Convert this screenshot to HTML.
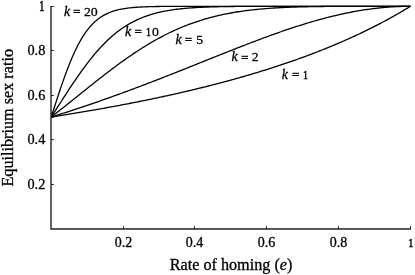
<!DOCTYPE html>
<html><head><meta charset="utf-8"><style>
html,body{margin:0;padding:0;background:#fff;}
body{width:415px;height:275px;overflow:hidden;}
svg{display:block;}
text{font-family:"Liberation Serif","Times New Roman",serif;fill:#000;stroke:#000;stroke-width:0.3px;}
</style></head><body>
<svg width="415" height="275" viewBox="0 0 415 275">
<rect width="415" height="275" fill="#fff"/>
<g fill="none" stroke="#000" stroke-width="1.3" stroke-linejoin="round">
<path d="M51.20,117.00 L52.70,116.77 L54.19,116.54 L55.69,116.30 L57.19,116.07 L58.68,115.83 L60.18,115.60 L61.68,115.36 L63.17,115.12 L64.67,114.88 L66.17,114.64 L67.66,114.40 L69.16,114.16 L70.66,113.92 L72.15,113.67 L73.65,113.43 L75.15,113.18 L76.64,112.94 L78.14,112.69 L79.64,112.44 L81.13,112.19 L82.63,111.94 L84.13,111.68 L85.62,111.43 L87.12,111.17 L88.62,110.92 L90.11,110.66 L91.61,110.40 L93.11,110.14 L94.60,109.88 L96.10,109.62 L97.60,109.36 L99.09,109.09 L100.59,108.83 L102.09,108.56 L103.58,108.29 L105.08,108.02 L106.58,107.75 L108.07,107.48 L109.57,107.21 L111.07,106.94 L112.56,106.66 L114.06,106.38 L115.56,106.11 L117.05,105.83 L118.55,105.55 L120.05,105.27 L121.54,104.98 L123.04,104.70 L124.54,104.41 L126.03,104.13 L127.53,103.84 L129.03,103.55 L130.52,103.26 L132.02,102.97 L133.52,102.67 L135.01,102.38 L136.51,102.08 L138.01,101.79 L139.50,101.49 L141.00,101.19 L142.50,100.88 L143.99,100.58 L145.49,100.28 L146.99,99.97 L148.48,99.66 L149.98,99.35 L151.48,99.04 L152.97,98.73 L154.47,98.42 L155.97,98.10 L157.46,97.78 L158.96,97.46 L160.46,97.14 L161.95,96.82 L163.45,96.50 L164.95,96.18 L166.44,95.85 L167.94,95.52 L169.44,95.19 L170.93,94.86 L172.43,94.53 L173.93,94.19 L175.42,93.86 L176.92,93.52 L178.42,93.18 L179.91,92.84 L181.41,92.49 L182.91,92.15 L184.40,91.80 L185.90,91.45 L187.40,91.10 L188.89,90.75 L190.39,90.40 L191.89,90.04 L193.38,89.68 L194.88,89.32 L196.38,88.96 L197.87,88.60 L199.37,88.24 L200.87,87.87 L202.36,87.50 L203.86,87.13 L205.36,86.76 L206.85,86.38 L208.35,86.00 L209.85,85.63 L211.34,85.24 L212.84,84.86 L214.34,84.48 L215.83,84.09 L217.33,83.70 L218.83,83.31 L220.32,82.92 L221.82,82.52 L223.32,82.12 L224.81,81.72 L226.31,81.32 L227.81,80.92 L229.30,80.51 L230.80,80.10 L232.30,79.69 L233.79,79.28 L235.29,78.86 L236.79,78.44 L238.28,78.02 L239.78,77.60 L241.28,77.17 L242.77,76.75 L244.27,76.32 L245.77,75.88 L247.26,75.45 L248.76,75.01 L250.26,74.57 L251.75,74.13 L253.25,73.68 L254.75,73.23 L256.24,72.78 L257.74,72.33 L259.24,71.88 L260.73,71.42 L262.23,70.96 L263.73,70.49 L265.22,70.03 L266.72,69.56 L268.22,69.09 L269.71,68.61 L271.21,68.13 L272.71,67.65 L274.20,67.17 L275.70,66.68 L277.20,66.19 L278.69,65.70 L280.19,65.20 L281.69,64.71 L283.18,64.20 L284.68,63.70 L286.18,63.19 L287.67,62.68 L289.17,62.17 L290.67,61.65 L292.16,61.13 L293.66,60.61 L295.16,60.08 L296.65,59.55 L298.15,59.01 L299.65,58.48 L301.14,57.94 L302.64,57.39 L304.14,56.84 L305.63,56.29 L307.13,55.74 L308.63,55.18 L310.12,54.62 L311.62,54.05 L313.12,53.48 L314.61,52.91 L316.11,52.33 L317.61,51.75 L319.10,51.17 L320.60,50.58 L322.10,49.99 L323.59,49.39 L325.09,48.79 L326.59,48.19 L328.08,47.58 L329.58,46.97 L331.08,46.35 L332.57,45.73 L334.07,45.10 L335.57,44.47 L337.06,43.84 L338.56,43.20 L340.06,42.56 L341.55,41.91 L343.05,41.26 L344.55,40.60 L346.04,39.94 L347.54,39.27 L349.04,38.60 L350.53,37.93 L352.03,37.25 L353.53,36.56 L355.02,35.87 L356.52,35.18 L358.02,34.48 L359.51,33.77 L361.01,33.06 L362.51,32.35 L364.00,31.63 L365.50,30.90 L367.00,30.17 L368.49,29.43 L369.99,28.69 L371.49,27.94 L372.98,27.19 L374.48,26.43 L375.98,25.66 L377.47,24.89 L378.97,24.11 L380.47,23.33 L381.96,22.54 L383.46,21.75 L384.96,20.95 L386.45,20.14 L387.95,19.32 L389.45,18.50 L390.94,17.68 L392.44,16.84 L393.94,16.00 L395.43,15.16 L396.93,14.30 L398.43,13.44 L399.92,12.57 L401.42,11.70 L402.92,10.82 L404.41,9.93 L405.91,9.03 L407.41,8.13 L408.90,7.22 L410.40,6.30"/>
<path d="M51.20,117.00 L52.70,116.54 L54.19,116.07 L55.69,115.61 L57.19,115.14 L58.68,114.67 L60.18,114.20 L61.68,113.72 L63.17,113.25 L64.67,112.77 L66.17,112.29 L67.66,111.81 L69.16,111.33 L70.66,110.84 L72.15,110.35 L73.65,109.87 L75.15,109.37 L76.64,108.88 L78.14,108.39 L79.64,107.89 L81.13,107.39 L82.63,106.89 L84.13,106.39 L85.62,105.89 L87.12,105.38 L88.62,104.87 L90.11,104.36 L91.61,103.85 L93.11,103.34 L94.60,102.82 L96.10,102.31 L97.60,101.79 L99.09,101.27 L100.59,100.74 L102.09,100.22 L103.58,99.69 L105.08,99.17 L106.58,98.64 L108.07,98.11 L109.57,97.57 L111.07,97.04 L112.56,96.50 L114.06,95.96 L115.56,95.42 L117.05,94.88 L118.55,94.34 L120.05,93.79 L121.54,93.25 L123.04,92.70 L124.54,92.15 L126.03,91.60 L127.53,91.05 L129.03,90.49 L130.52,89.94 L132.02,89.38 L133.52,88.82 L135.01,88.26 L136.51,87.70 L138.01,87.13 L139.50,86.57 L141.00,86.00 L142.50,85.44 L143.99,84.87 L145.49,84.30 L146.99,83.73 L148.48,83.15 L149.98,82.58 L151.48,82.00 L152.97,81.43 L154.47,80.85 L155.97,80.27 L157.46,79.69 L158.96,79.11 L160.46,78.53 L161.95,77.94 L163.45,77.36 L164.95,76.77 L166.44,76.19 L167.94,75.60 L169.44,75.01 L170.93,74.42 L172.43,73.83 L173.93,73.24 L175.42,72.65 L176.92,72.06 L178.42,71.47 L179.91,70.87 L181.41,70.28 L182.91,69.68 L184.40,69.09 L185.90,68.49 L187.40,67.89 L188.89,67.30 L190.39,66.70 L191.89,66.10 L193.38,65.50 L194.88,64.91 L196.38,64.31 L197.87,63.71 L199.37,63.11 L200.87,62.51 L202.36,61.91 L203.86,61.31 L205.36,60.71 L206.85,60.11 L208.35,59.51 L209.85,58.92 L211.34,58.32 L212.84,57.72 L214.34,57.12 L215.83,56.52 L217.33,55.93 L218.83,55.33 L220.32,54.73 L221.82,54.14 L223.32,53.54 L224.81,52.95 L226.31,52.36 L227.81,51.76 L229.30,51.17 L230.80,50.58 L232.30,49.99 L233.79,49.40 L235.29,48.81 L236.79,48.23 L238.28,47.64 L239.78,47.06 L241.28,46.47 L242.77,45.89 L244.27,45.31 L245.77,44.74 L247.26,44.16 L248.76,43.58 L250.26,43.01 L251.75,42.44 L253.25,41.87 L254.75,41.30 L256.24,40.74 L257.74,40.17 L259.24,39.61 L260.73,39.05 L262.23,38.49 L263.73,37.94 L265.22,37.39 L266.72,36.84 L268.22,36.29 L269.71,35.75 L271.21,35.20 L272.71,34.67 L274.20,34.13 L275.70,33.60 L277.20,33.07 L278.69,32.54 L280.19,32.01 L281.69,31.49 L283.18,30.98 L284.68,30.46 L286.18,29.95 L287.67,29.44 L289.17,28.94 L290.67,28.44 L292.16,27.94 L293.66,27.45 L295.16,26.96 L296.65,26.48 L298.15,26.00 L299.65,25.52 L301.14,25.05 L302.64,24.58 L304.14,24.12 L305.63,23.66 L307.13,23.20 L308.63,22.75 L310.12,22.31 L311.62,21.87 L313.12,21.43 L314.61,21.00 L316.11,20.57 L317.61,20.15 L319.10,19.73 L320.60,19.32 L322.10,18.92 L323.59,18.52 L325.09,18.12 L326.59,17.73 L328.08,17.35 L329.58,16.97 L331.08,16.60 L332.57,16.23 L334.07,15.87 L335.57,15.51 L337.06,15.16 L338.56,14.82 L340.06,14.48 L341.55,14.15 L343.05,13.82 L344.55,13.50 L346.04,13.19 L347.54,12.88 L349.04,12.58 L350.53,12.28 L352.03,12.00 L353.53,11.71 L355.02,11.44 L356.52,11.17 L358.02,10.91 L359.51,10.66 L361.01,10.41 L362.51,10.17 L364.00,9.93 L365.50,9.71 L367.00,9.49 L368.49,9.27 L369.99,9.07 L371.49,8.87 L372.98,8.68 L374.48,8.49 L375.98,8.31 L377.47,8.14 L378.97,7.98 L380.47,7.83 L381.96,7.68 L383.46,7.54 L384.96,7.41 L386.45,7.28 L387.95,7.16 L389.45,7.05 L390.94,6.95 L392.44,6.85 L393.94,6.76 L395.43,6.68 L396.93,6.61 L398.43,6.55 L399.92,6.49 L401.42,6.44 L402.92,6.40 L404.41,6.36 L405.91,6.33 L407.41,6.32 L408.90,6.30 L410.40,6.30"/>
<path d="M51.20,117.00 L52.70,115.84 L54.19,114.68 L55.69,113.52 L57.19,112.35 L58.68,111.18 L60.18,110.00 L61.68,108.82 L63.17,107.64 L64.67,106.45 L66.17,105.27 L67.66,104.07 L69.16,102.88 L70.66,101.69 L72.15,100.49 L73.65,99.29 L75.15,98.09 L76.64,96.89 L78.14,95.69 L79.64,94.49 L81.13,93.29 L82.63,92.09 L84.13,90.89 L85.62,89.69 L87.12,88.50 L88.62,87.30 L90.11,86.11 L91.61,84.92 L93.11,83.73 L94.60,82.54 L96.10,81.36 L97.60,80.18 L99.09,79.00 L100.59,77.83 L102.09,76.67 L103.58,75.50 L105.08,74.34 L106.58,73.19 L108.07,72.05 L109.57,70.90 L111.07,69.77 L112.56,68.64 L114.06,67.52 L115.56,66.40 L117.05,65.30 L118.55,64.20 L120.05,63.10 L121.54,62.02 L123.04,60.94 L124.54,59.88 L126.03,58.82 L127.53,57.77 L129.03,56.73 L130.52,55.70 L132.02,54.67 L133.52,53.66 L135.01,52.66 L136.51,51.67 L138.01,50.69 L139.50,49.72 L141.00,48.76 L142.50,47.81 L143.99,46.88 L145.49,45.95 L146.99,45.04 L148.48,44.14 L149.98,43.25 L151.48,42.37 L152.97,41.50 L154.47,40.65 L155.97,39.80 L157.46,38.97 L158.96,38.16 L160.46,37.35 L161.95,36.56 L163.45,35.78 L164.95,35.01 L166.44,34.25 L167.94,33.51 L169.44,32.78 L170.93,32.06 L172.43,31.36 L173.93,30.67 L175.42,29.99 L176.92,29.32 L178.42,28.66 L179.91,28.02 L181.41,27.39 L182.91,26.77 L184.40,26.17 L185.90,25.58 L187.40,25.00 L188.89,24.43 L190.39,23.87 L191.89,23.33 L193.38,22.79 L194.88,22.27 L196.38,21.77 L197.87,21.27 L199.37,20.78 L200.87,20.31 L202.36,19.84 L203.86,19.39 L205.36,18.95 L206.85,18.52 L208.35,18.10 L209.85,17.69 L211.34,17.30 L212.84,16.91 L214.34,16.53 L215.83,16.16 L217.33,15.81 L218.83,15.46 L220.32,15.12 L221.82,14.79 L223.32,14.47 L224.81,14.16 L226.31,13.86 L227.81,13.57 L229.30,13.28 L230.80,13.01 L232.30,12.74 L233.79,12.48 L235.29,12.23 L236.79,11.99 L238.28,11.75 L239.78,11.53 L241.28,11.31 L242.77,11.09 L244.27,10.89 L245.77,10.69 L247.26,10.50 L248.76,10.31 L250.26,10.13 L251.75,9.96 L253.25,9.79 L254.75,9.63 L256.24,9.48 L257.74,9.33 L259.24,9.18 L260.73,9.05 L262.23,8.91 L263.73,8.79 L265.22,8.66 L266.72,8.54 L268.22,8.43 L269.71,8.32 L271.21,8.22 L272.71,8.12 L274.20,8.02 L275.70,7.93 L277.20,7.84 L278.69,7.76 L280.19,7.68 L281.69,7.60 L283.18,7.53 L284.68,7.46 L286.18,7.39 L287.67,7.33 L289.17,7.27 L290.67,7.21 L292.16,7.15 L293.66,7.10 L295.16,7.05 L296.65,7.00 L298.15,6.96 L299.65,6.92 L301.14,6.87 L302.64,6.84 L304.14,6.80 L305.63,6.77 L307.13,6.73 L308.63,6.70 L310.12,6.67 L311.62,6.65 L313.12,6.62 L314.61,6.60 L316.11,6.58 L317.61,6.55 L319.10,6.53 L320.60,6.52 L322.10,6.50 L323.59,6.48 L325.09,6.47 L326.59,6.45 L328.08,6.44 L329.58,6.43 L331.08,6.42 L332.57,6.41 L334.07,6.40 L335.57,6.39 L337.06,6.38 L338.56,6.37 L340.06,6.36 L341.55,6.36 L343.05,6.35 L344.55,6.35 L346.04,6.34 L347.54,6.34 L349.04,6.33 L350.53,6.33 L352.03,6.33 L353.53,6.32 L355.02,6.32 L356.52,6.32 L358.02,6.31 L359.51,6.31 L361.01,6.31 L362.51,6.31 L364.00,6.31 L365.50,6.31 L367.00,6.31 L368.49,6.30 L369.99,6.30 L371.49,6.30 L372.98,6.30 L374.48,6.30 L375.98,6.30 L377.47,6.30 L378.97,6.30 L380.47,6.30 L381.96,6.30 L383.46,6.30 L384.96,6.30 L386.45,6.30 L387.95,6.30 L389.45,6.30 L390.94,6.30 L392.44,6.30 L393.94,6.30 L395.43,6.30 L396.93,6.30 L398.43,6.30 L399.92,6.30 L401.42,6.30 L402.92,6.30 L404.41,6.30 L405.91,6.30 L407.41,6.30 L408.90,6.30 L410.40,6.30"/>
<path d="M51.20,117.00 L52.70,114.69 L54.19,112.37 L55.69,110.05 L57.19,107.72 L58.68,105.39 L60.18,103.06 L61.68,100.73 L63.17,98.41 L64.67,96.10 L66.17,93.79 L67.66,91.50 L69.16,89.22 L70.66,86.95 L72.15,84.70 L73.65,82.47 L75.15,80.26 L76.64,78.07 L78.14,75.91 L79.64,73.77 L81.13,71.66 L82.63,69.59 L84.13,67.54 L85.62,65.52 L87.12,63.54 L88.62,61.59 L90.11,59.68 L91.61,57.81 L93.11,55.97 L94.60,54.17 L96.10,52.41 L97.60,50.70 L99.09,49.02 L100.59,47.38 L102.09,45.78 L103.58,44.23 L105.08,42.72 L106.58,41.25 L108.07,39.82 L109.57,38.43 L111.07,37.09 L112.56,35.78 L114.06,34.52 L115.56,33.29 L117.05,32.11 L118.55,30.97 L120.05,29.86 L121.54,28.80 L123.04,27.77 L124.54,26.78 L126.03,25.82 L127.53,24.90 L129.03,24.02 L130.52,23.17 L132.02,22.35 L133.52,21.57 L135.01,20.81 L136.51,20.09 L138.01,19.40 L139.50,18.74 L141.00,18.10 L142.50,17.50 L143.99,16.92 L145.49,16.36 L146.99,15.83 L148.48,15.32 L149.98,14.84 L151.48,14.38 L152.97,13.94 L154.47,13.52 L155.97,13.12 L157.46,12.74 L158.96,12.38 L160.46,12.04 L161.95,11.71 L163.45,11.40 L164.95,11.11 L166.44,10.83 L167.94,10.56 L169.44,10.31 L170.93,10.07 L172.43,9.85 L173.93,9.63 L175.42,9.43 L176.92,9.24 L178.42,9.06 L179.91,8.89 L181.41,8.73 L182.91,8.58 L184.40,8.43 L185.90,8.30 L187.40,8.17 L188.89,8.05 L190.39,7.93 L191.89,7.83 L193.38,7.73 L194.88,7.63 L196.38,7.54 L197.87,7.46 L199.37,7.38 L200.87,7.31 L202.36,7.24 L203.86,7.17 L205.36,7.11 L206.85,7.05 L208.35,7.00 L209.85,6.95 L211.34,6.90 L212.84,6.86 L214.34,6.82 L215.83,6.78 L217.33,6.74 L218.83,6.71 L220.32,6.68 L221.82,6.65 L223.32,6.62 L224.81,6.60 L226.31,6.58 L227.81,6.55 L229.30,6.53 L230.80,6.52 L232.30,6.50 L233.79,6.48 L235.29,6.47 L236.79,6.45 L238.28,6.44 L239.78,6.43 L241.28,6.42 L242.77,6.41 L244.27,6.40 L245.77,6.39 L247.26,6.38 L248.76,6.38 L250.26,6.37 L251.75,6.36 L253.25,6.36 L254.75,6.35 L256.24,6.35 L257.74,6.34 L259.24,6.34 L260.73,6.33 L262.23,6.33 L263.73,6.33 L265.22,6.33 L266.72,6.32 L268.22,6.32 L269.71,6.32 L271.21,6.32 L272.71,6.32 L274.20,6.31 L275.70,6.31 L277.20,6.31 L278.69,6.31 L280.19,6.31 L281.69,6.31 L283.18,6.31 L284.68,6.31 L286.18,6.31 L287.67,6.30 L289.17,6.30 L290.67,6.30 L292.16,6.30 L293.66,6.30 L295.16,6.30 L296.65,6.30 L298.15,6.30 L299.65,6.30 L301.14,6.30 L302.64,6.30 L304.14,6.30 L305.63,6.30 L307.13,6.30 L308.63,6.30 L310.12,6.30 L311.62,6.30 L313.12,6.30 L314.61,6.30 L316.11,6.30 L317.61,6.30 L319.10,6.30 L320.60,6.30 L322.10,6.30 L323.59,6.30 L325.09,6.30 L326.59,6.30 L328.08,6.30 L329.58,6.30 L331.08,6.30 L332.57,6.30 L334.07,6.30 L335.57,6.30 L337.06,6.30 L338.56,6.30 L340.06,6.30 L341.55,6.30 L343.05,6.30 L344.55,6.30 L346.04,6.30 L347.54,6.30 L349.04,6.30 L350.53,6.30 L352.03,6.30 L353.53,6.30 L355.02,6.30 L356.52,6.30 L358.02,6.30 L359.51,6.30 L361.01,6.30 L362.51,6.30 L364.00,6.30 L365.50,6.30 L367.00,6.30 L368.49,6.30 L369.99,6.30 L371.49,6.30 L372.98,6.30 L374.48,6.30 L375.98,6.30 L377.47,6.30 L378.97,6.30 L380.47,6.30 L381.96,6.30 L383.46,6.30 L384.96,6.30 L386.45,6.30 L387.95,6.30 L389.45,6.30 L390.94,6.30 L392.44,6.30 L393.94,6.30 L395.43,6.30 L396.93,6.30 L398.43,6.30 L399.92,6.30 L401.42,6.30 L402.92,6.30 L404.41,6.30 L405.91,6.30 L407.41,6.30 L408.90,6.30 L410.40,6.30"/>
<path d="M51.20,117.00 L52.70,112.38 L54.19,107.76 L55.69,103.15 L57.19,98.57 L58.68,94.03 L60.18,89.56 L61.68,85.16 L63.17,80.85 L64.67,76.64 L66.17,72.54 L67.66,68.57 L69.16,64.72 L70.66,61.02 L72.15,57.47 L73.65,54.06 L75.15,50.81 L76.64,47.71 L78.14,44.77 L79.64,41.98 L81.13,39.35 L82.63,36.87 L84.13,34.54 L85.62,32.35 L87.12,30.30 L88.62,28.38 L90.11,26.60 L91.61,24.94 L93.11,23.39 L94.60,21.96 L96.10,20.63 L97.60,19.40 L99.09,18.27 L100.59,17.22 L102.09,16.26 L103.58,15.38 L105.08,14.56 L106.58,13.81 L108.07,13.13 L109.57,12.50 L111.07,11.93 L112.56,11.40 L114.06,10.92 L115.56,10.49 L117.05,10.09 L118.55,9.73 L120.05,9.40 L121.54,9.10 L123.04,8.82 L124.54,8.58 L126.03,8.35 L127.53,8.15 L129.03,7.96 L130.52,7.80 L132.02,7.64 L133.52,7.51 L135.01,7.38 L136.51,7.27 L138.01,7.17 L139.50,7.08 L141.00,7.00 L142.50,6.93 L143.99,6.86 L145.49,6.80 L146.99,6.75 L148.48,6.70 L149.98,6.66 L151.48,6.62 L152.97,6.58 L154.47,6.55 L155.97,6.52 L157.46,6.50 L158.96,6.48 L160.46,6.46 L161.95,6.44 L163.45,6.42 L164.95,6.41 L166.44,6.40 L167.94,6.39 L169.44,6.38 L170.93,6.37 L172.43,6.36 L173.93,6.35 L175.42,6.35 L176.92,6.34 L178.42,6.34 L179.91,6.33 L181.41,6.33 L182.91,6.32 L184.40,6.32 L185.90,6.32 L187.40,6.32 L188.89,6.31 L190.39,6.31 L191.89,6.31 L193.38,6.31 L194.88,6.31 L196.38,6.31 L197.87,6.31 L199.37,6.31 L200.87,6.30 L202.36,6.30 L203.86,6.30 L205.36,6.30 L206.85,6.30 L208.35,6.30 L209.85,6.30 L211.34,6.30 L212.84,6.30 L214.34,6.30 L215.83,6.30 L217.33,6.30 L218.83,6.30 L220.32,6.30 L221.82,6.30 L223.32,6.30 L224.81,6.30 L226.31,6.30 L227.81,6.30 L229.30,6.30 L230.80,6.30 L232.30,6.30 L233.79,6.30 L235.29,6.30 L236.79,6.30 L238.28,6.30 L239.78,6.30 L241.28,6.30 L242.77,6.30 L244.27,6.30 L245.77,6.30 L247.26,6.30 L248.76,6.30 L250.26,6.30 L251.75,6.30 L253.25,6.30 L254.75,6.30 L256.24,6.30 L257.74,6.30 L259.24,6.30 L260.73,6.30 L262.23,6.30 L263.73,6.30 L265.22,6.30 L266.72,6.30 L268.22,6.30 L269.71,6.30 L271.21,6.30 L272.71,6.30 L274.20,6.30 L275.70,6.30 L277.20,6.30 L278.69,6.30 L280.19,6.30 L281.69,6.30 L283.18,6.30 L284.68,6.30 L286.18,6.30 L287.67,6.30 L289.17,6.30 L290.67,6.30 L292.16,6.30 L293.66,6.30 L295.16,6.30 L296.65,6.30 L298.15,6.30 L299.65,6.30 L301.14,6.30 L302.64,6.30 L304.14,6.30 L305.63,6.30 L307.13,6.30 L308.63,6.30 L310.12,6.30 L311.62,6.30 L313.12,6.30 L314.61,6.30 L316.11,6.30 L317.61,6.30 L319.10,6.30 L320.60,6.30 L322.10,6.30 L323.59,6.30 L325.09,6.30 L326.59,6.30 L328.08,6.30 L329.58,6.30 L331.08,6.30 L332.57,6.30 L334.07,6.30 L335.57,6.30 L337.06,6.30 L338.56,6.30 L340.06,6.30 L341.55,6.30 L343.05,6.30 L344.55,6.30 L346.04,6.30 L347.54,6.30 L349.04,6.30 L350.53,6.30 L352.03,6.30 L353.53,6.30 L355.02,6.30 L356.52,6.30 L358.02,6.30 L359.51,6.30 L361.01,6.30 L362.51,6.30 L364.00,6.30 L365.50,6.30 L367.00,6.30 L368.49,6.30 L369.99,6.30 L371.49,6.30 L372.98,6.30 L374.48,6.30 L375.98,6.30 L377.47,6.30 L378.97,6.30 L380.47,6.30 L381.96,6.30 L383.46,6.30 L384.96,6.30 L386.45,6.30 L387.95,6.30 L389.45,6.30 L390.94,6.30 L392.44,6.30 L393.94,6.30 L395.43,6.30 L396.93,6.30 L398.43,6.30 L399.92,6.30 L401.42,6.30 L402.92,6.30 L404.41,6.30 L405.91,6.30 L407.41,6.30 L408.90,6.30 L410.40,6.30"/>
</g>
<path d="M51.6,111.6 L53.0,112.6 L54.0,117.6 L51.6,117.7 Z" fill="#000"/>
<g fill="none" stroke="#222" stroke-width="1.4">
<path d="M51,6 L51,229 L410.9,229"/>
</g>
<g fill="none" stroke="#222" stroke-width="1">
<line x1="51" y1="6.5" x2="53.8" y2="6.5"/>
<line x1="51" y1="50.5" x2="53.8" y2="50.5"/>
<line x1="51" y1="95.5" x2="53.8" y2="95.5"/>
<line x1="51" y1="139.5" x2="53.8" y2="139.5"/>
<line x1="51" y1="184.5" x2="53.8" y2="184.5"/>
<line x1="123.5" y1="229" x2="123.5" y2="226.2"/>
<line x1="194.5" y1="229" x2="194.5" y2="226.2"/>
<line x1="266.5" y1="229" x2="266.5" y2="226.2"/>
<line x1="338.5" y1="229" x2="338.5" y2="226.2"/>
<line x1="410.5" y1="229" x2="410.5" y2="226.2"/>
</g>
<g font-size="14">
<text transform="translate(41.65,10.5) scale(0.72,1.0)" text-anchor="middle" style="stroke-width:0.6px">1</text>
<text transform="translate(45.3,55.1) scale(1.02,0.97)" text-anchor="end">0.8</text>
<text transform="translate(45.3,100.1) scale(1.02,0.97)" text-anchor="end">0.6</text>
<text transform="translate(45.3,144.1) scale(1.02,0.97)" text-anchor="end">0.4</text>
<text transform="translate(45.3,189.1) scale(1.02,0.97)" text-anchor="end">0.2</text>
<text transform="translate(123.5,247.2) scale(1,1.0)" text-anchor="middle">0.2</text>
<text transform="translate(194.5,247.2) scale(1,1.0)" text-anchor="middle">0.4</text>
<text transform="translate(266.5,247.2) scale(1,1.0)" text-anchor="middle">0.6</text>
<text transform="translate(338.5,247.2) scale(1,1.0)" text-anchor="middle">0.8</text>
<text transform="translate(410.65,247.0) scale(0.72,0.92)" text-anchor="middle" style="stroke-width:0.6px">1</text>
</g>
<g font-size="13.8">
<text x="64.0" y="15.7" font-style="italic">k</text>
<text transform="translate(73.00,14.82) scale(0.96,0.724)" style="stroke-width:0.45px">=</text>
<text transform="translate(83.91,15.7) scale(1,0.92)">20</text>
<text x="124.9" y="36.0" font-style="italic">k</text>
<text transform="translate(134.60,35.12) scale(0.96,0.724)" style="stroke-width:0.45px">=</text>
<text transform="translate(148.55,36.0) scale(0.72,0.95)" text-anchor="middle" style="stroke-width:0.6px">1</text>
<text transform="translate(151.91,36.0) scale(1,0.92)">0</text>
<text x="175.5" y="44.1" font-style="italic">k</text>
<text transform="translate(184.80,43.22) scale(0.96,0.724)" style="stroke-width:0.45px">=</text>
<text transform="translate(196.31,44.1) scale(1,0.92)">5</text>
<text x="231.45" y="61.45" font-style="italic">k</text>
<text transform="translate(241.00,60.57) scale(0.96,0.724)" style="stroke-width:0.45px">=</text>
<text transform="translate(251.76,61.45) scale(1,0.92)">2</text>
<text x="281.65" y="78.6" font-style="italic">k</text>
<text transform="translate(291.90,77.72) scale(0.96,0.724)" style="stroke-width:0.45px">=</text>
<text transform="translate(305.6,78.6) scale(0.72,0.95)" text-anchor="middle" style="stroke-width:0.6px">1</text>
</g>
<text x="169.7" y="269.5" font-size="16.2">Rate of homing (<tspan font-style="italic">e</tspan>)</text>
<text transform="translate(13.3,186.6) rotate(-90)" font-size="16.2">Equilibrium sex ratio</text>
</svg>
</body></html>
